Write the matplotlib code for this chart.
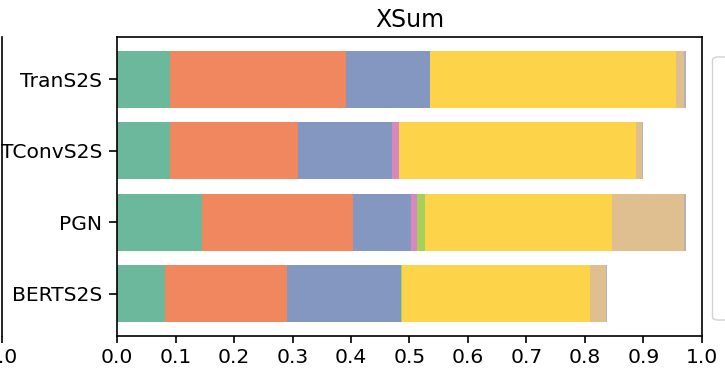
import matplotlib
matplotlib.use("Agg")
import matplotlib.pyplot as plt
from matplotlib.patches import FancyBboxPatch

models = ["TranS2S", "TConvS2S", "PGN", "BERTS2S"]
seg_labels = ["Seg 1", "Seg 2", "Seg 3", "Seg 4", "Seg 5", "Seg 6", "Seg 7", "Seg 8"]
seg1 = [0.091, 0.091, 0.146, 0.082]
seg2 = [0.300, 0.218, 0.258, 0.209]
seg3 = [0.144, 0.161, 0.098, 0.195]
seg4 = [0.000, 0.012, 0.011, 0.000]
seg5 = [0.000, 0.000, 0.013, 0.002]
seg6 = [0.421, 0.405, 0.320, 0.321]
seg7 = [0.014, 0.010, 0.124, 0.027]
seg8 = [0.002, 0.002, 0.002, 0.002]
segments = [seg1, seg2, seg3, seg4, seg5, seg6, seg7, seg8]
xticks = [0.0, 0.1, 0.2, 0.3, 0.4, 0.5, 0.6, 0.7, 0.8, 0.9, 1.0]

colors = ["#6bb89d", "#f0875f", "#8497c0", "#d888bd",
          "#a5d15a", "#fdd34a", "#dfbf90", "#b3b3b3"]

W, H = 725, 372
fig = plt.figure(figsize=(W / 100, H / 100), dpi=100)

def px(x0, y0, x1, y1):
    # image pixel coords (top-left origin) -> figure fraction rect
    return [x0 / W, (H - y1) / H, (x1 - x0) / W, (y1 - y0) / H]

ax = fig.add_axes(px(117, 37, 702, 336))
left = [0.0] * len(models)
for vals, lab, c in zip(segments, seg_labels, colors):
    ax.barh(models, vals, left=left, color=c, label=lab, height=0.8)
    left = [a + b for a, b in zip(left, vals)]
ax.invert_yaxis()
ax.set_xlim(0, 1.0)
ax.set_xticks(xticks)
ax.set_xticklabels([f"{t:.1f}" for t in xticks])
ax.tick_params(labelsize=14.6, width=1.2, length=5)
ax.tick_params(axis="y", length=6, pad=4.5)
for s in ax.spines.values():
    s.set_linewidth(1.2)
ax.set_title("XSum", fontsize=17, pad=7)

# neighbouring (cropped) subplot on the left
axl = fig.add_axes(px(-300, 37, 1.5, 336))
axl.set_xlim(0, 1.0)
axl.set_xticks([1.0])
axl.set_xticklabels(["1.0"])
axl.set_yticks([])
axl.tick_params(labelsize=14.6, width=1.2, length=5)
for k in ["left", "top", "bottom"]:
    axl.spines[k].set_visible(False)
axl.spines["right"].set_linewidth(1.2)
axl.patch.set_alpha(0)

# cropped legend frame on the right
x0, y0, x1, y1 = 712.5, 57, 760, 320
box = FancyBboxPatch((x0 / W, (H - y1) / H), (x1 - x0) / W, (y1 - y0) / H,
                     boxstyle="round,pad=0,rounding_size=0.008",
                     transform=fig.transFigure, facecolor="white",
                     edgecolor="0.8", linewidth=1.0, alpha=0.9)
fig.patches.append(box)

fig.savefig("out.png", dpi=100)
